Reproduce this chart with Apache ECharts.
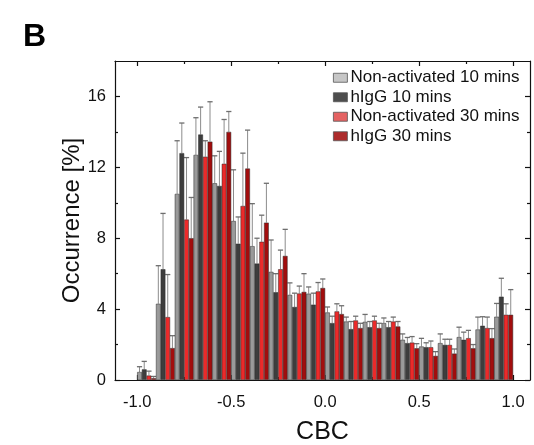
<!DOCTYPE html>
<html>
<head>
<meta charset="utf-8">
<script src="https://cdn.jsdelivr.net/npm/echarts@6/dist/echarts.min.js"></script>
<style>
  html, body { margin: 0; padding: 0; background: #ffffff; }
  #chart { width: 534px; height: 445px; }
</style>
</head>
<body>
<div id="chart"></div>
<script>
// CBC histogram bins (width 0.1), bin centres
const binCenters = [-0.95, -0.85, -0.75, -0.65, -0.55, -0.45, -0.35, -0.25, -0.15, -0.05,
                     0.05,  0.15,  0.25,  0.35,  0.45,  0.55,  0.65,  0.75,  0.85,  0.95];

// Occurrence [%] per bin and the top of each error bar
const nonAct10    = [0.45, 4.3, 10.5, 12.7, 11.1, 8.97, 7.55, 6.1, 4.8, 4.87, 3.81, 3.3, 3.28, 3.21, 2.27, 1.89, 2.08, 2.42, 2.85, 3.57];
const nonAct10Top = [0.75, 6.45, 13.5, 14.8, 12.65, 11.86, 9.95, 7.9, 5.48, 5.25, 4.12, 3.55, 3.7, 3.5, 2.6, 2.35, 2.6, 2.98, 3.55, 4.32];

const higg10      = [0.6, 6.25, 12.8, 13.85, 10.95, 7.69, 6.57, 4.95, 4.12, 4.25, 3.21, 2.87, 2.98, 2.98, 2.08, 1.85, 1.98, 2.27, 3.06, 4.7];
const higg10Top   = [1.05, 9.4, 14.5, 15.4, 12.9, 9.2, 8.0, 6.0, 4.9, 4.9, 3.6, 3.3, 3.3, 3.3, 2.4, 2.1, 2.3, 2.7, 3.57, 5.74];

const nonAct30    = [0.25, 3.55, 9.05, 12.6, 12.2, 9.82, 7.8, 6.25, 4.88, 5.0, 3.87, 3.36, 3.36, 3.3, 2.11, 1.85, 1.98, 2.36, 2.93, 3.68];
const nonAct30Top = [0.5, 5.95, 12.55, 13.5, 14.7, 12.8, 9.3, 7.33, 5.3, 5.5, 4.3, 3.6, 3.6, 3.55, 2.45, 2.2, 2.3, 2.8, 3.55, 4.3];

const higg30      = [0.1, 1.8, 8.0, 13.45, 14.0, 11.93, 8.88, 7.0, 4.97, 5.19, 3.72, 2.93, 2.93, 3.02, 1.79, 1.36, 1.49, 1.79, 2.36, 3.68];
const higg30Top   = [0.2, 2.5, 10.3, 15.7, 15.15, 14.1, 11.1, 8.5, 6.0, 5.7, 4.19, 3.2, 3.2, 3.3, 2.05, 1.6, 1.75, 2.0, 2.9, 5.1];

// Axis ticks and labels
const xMajorTicks = [-1.0, -0.5, 0.0, 0.5, 1.0];
const xMinorTicks = [-0.75, -0.25, 0.25, 0.75];
const yMajorTicks = [0, 4, 8, 12, 16];
const yMinorTicks = [2, 6, 10, 14];

const seriesNames = ['Non-activated 10 mins', 'hIgG 10 mins', 'Non-activated 30 mins', 'hIgG 30 mins'];
const seriesValues = [nonAct10, higg10, nonAct30, higg30];
const seriesTops = [nonAct10Top, higg10Top, nonAct30Top, higg30Top];
const barColors = ['#9a9a9a', '#3d3d3d', '#ec2a2a', '#a20d0d'];
const swatchColors = ['#c6c6c6', '#4e4e4e', '#e46262', '#ad2b2b'];

const FONT = '"Liberation Sans", Arial, Helvetica, sans-serif';
const W = 534, H = 445;
const grid = { left: 115, right: 4, top: 61, bottom: 65 };
const X_MIN = -1.118, X_MAX = 1.09;
const BIN_WIDTH = 0.1;
const barPx = (W - grid.left - grid.right) / (X_MAX - X_MIN) * BIN_WIDTH / seriesNames.length;

const chart = echarts.init(document.getElementById('chart'), null, { renderer: 'canvas' });

function xAxisDef(pos, ticks, len, withLabels, withLine) {
  return {
    type: 'value', position: pos, min: X_MIN, max: X_MAX,
    axisLine: { show: withLine, onZero: false, lineStyle: { color: '#111', width: 1.2 } },
    axisTick: { show: true, inside: true, length: len, customValues: ticks, lineStyle: { color: '#111', width: 1.2 } },
    axisLabel: withLabels ? {
      show: true, customValues: ticks, margin: 14, color: '#111', fontSize: 16.5, fontFamily: FONT,
      formatter: v => v.toFixed(1)
    } : { show: false },
    splitLine: { show: false }
  };
}
function yAxisDef(pos, ticks, len, withLabels, withLine) {
  return {
    type: 'value', position: pos, min: 0, max: 18,
    axisLine: { show: withLine, onZero: false, lineStyle: { color: '#111', width: 1.2 } },
    axisTick: { show: true, inside: true, length: len, customValues: ticks, lineStyle: { color: '#111', width: 1.2 } },
    axisLabel: withLabels ? {
      show: true, customValues: ticks, margin: 9, color: '#111', fontSize: 16.5, fontFamily: FONT
    } : { show: false },
    splitLine: { show: false }
  };
}

const xAxes = [
  Object.assign(xAxisDef('bottom', xMajorTicks, 5, true, true), {
    name: 'CBC', nameLocation: 'middle', nameGap: 40, nameMoveOverlap: false,
    nameTextStyle: { fontSize: 25, color: '#111', fontFamily: FONT }
  }),
  xAxisDef('bottom', xMinorTicks, 3, false, false),
  xAxisDef('top', xMajorTicks, 5, false, true),
  xAxisDef('top', xMinorTicks, 3, false, false)
];
const yAxes = [
  Object.assign(yAxisDef('left', yMajorTicks, 5, true, true), {
    name: 'Occurrence [%]', nameLocation: 'middle', nameGap: 31, nameMoveOverlap: false,
    nameTextStyle: { fontSize: 24, color: '#111', fontFamily: FONT }
  }),
  yAxisDef('left', yMinorTicks, 3, false, false),
  yAxisDef('right', yMajorTicks, 5, false, true),
  yAxisDef('right', yMinorTicks, 3, false, false)
];

const series = [];
seriesNames.forEach((name, i) => {
  series.push({
    name, type: 'bar', xAxisIndex: 0, yAxisIndex: 0,
    barWidth: barPx, barGap: '0%',
    itemStyle: { color: barColors[i], borderColor: '#2b2b2b', borderWidth: 0.5 },
    data: binCenters.map((c, k) => [c, seriesValues[i][k]]),
    z: 3, animation: false
  });
});
// Upper error bars, offset to sit on top of each bar within its group
seriesNames.forEach((name, i) => {
  series.push({
    name: name + ' error', type: 'custom', xAxisIndex: 0, yAxisIndex: 0,
    data: binCenters.map((c, k) => [c, seriesValues[i][k], seriesTops[i][k]]),
    encode: { x: 0, y: [1, 2] },
    z: 2, animation: false, silent: true,
    renderItem: function (params, api) {
      const x = api.value(0);
      const base = api.coord([x, api.value(1)]);
      const top = api.coord([x, api.value(2)]);
      const bw = api.size([BIN_WIDTH, 0])[0] / seriesNames.length;
      const cx = base[0] + (i - (seriesNames.length - 1) / 2) * bw;
      return {
        type: 'group',
        children: [
          { type: 'line', shape: { x1: cx, y1: base[1], x2: cx, y2: top[1] },
            style: { stroke: '#8c8c8c', lineWidth: 1 } },
          { type: 'line', shape: { x1: cx - 2.6, y1: top[1], x2: cx + 2.6, y2: top[1] },
            style: { stroke: '#6e6e6e', lineWidth: 1.3 } }
        ]
      };
    }
  });
});

chart.setOption({
  backgroundColor: '#ffffff',
  animation: false,
  grid: Object.assign({ containLabel: false, outerBoundsMode: 'none' }, grid),
  xAxis: xAxes,
  yAxis: yAxes,
  legend: {
    orient: 'vertical', left: 333, top: 68,
    icon: 'rect', itemWidth: 14, itemHeight: 9, itemGap: 0, padding: 0,
    selectedMode: false,
    textStyle: { fontSize: 17, color: '#111', fontFamily: FONT, lineHeight: 19.5, padding: [0, 0, 0, -2] },
    data: seriesNames.map((n, i) => ({
      name: n, itemStyle: { color: swatchColors[i], borderColor: '#555', borderWidth: 0.8 }
    }))
  },
  graphic: [{
    type: 'text', left: 23, top: 21,
    style: { text: 'B', font: 'bold 32px ' + FONT, fill: '#000' }
  }],
  series
});
</script>
</body>
</html>
